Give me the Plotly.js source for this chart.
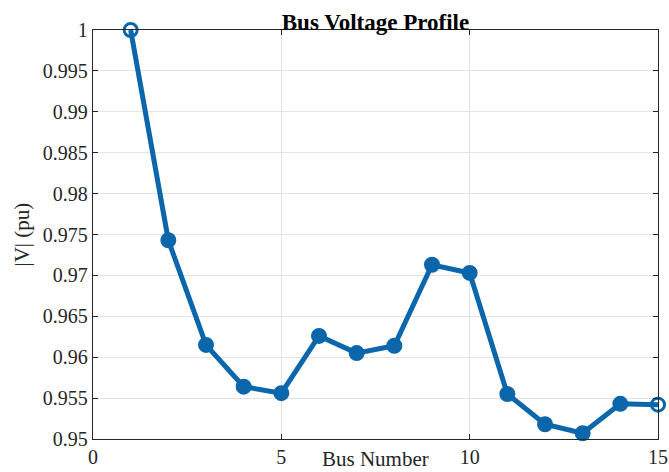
<!DOCTYPE html>
<html>
<head>
<meta charset="utf-8">
<script src="https://cdn.plot.ly/plotly-3.0.1.min.js"></script>
<style>
  html, body { margin: 0; padding: 0; background: #ffffff; }
  #chart { width: 669px; height: 472px; }
</style>
</head>
<body>
<div id="chart"></div>
<script>
// Voltage magnitude at each bus of the 15-bus feeder
const busNumbers = [1, 2, 3, 4, 5, 6, 7, 8, 9, 10, 11, 12, 13, 14, 15];
const voltagePu = [1.0000, 0.9743, 0.9615, 0.9564, 0.9556, 0.9626, 0.9605, 0.9614,
                   0.9713, 0.9703, 0.9555, 0.9518, 0.9507, 0.9543, 0.9542];
const xTickValues = [0, 5, 10, 15];
const yTickValues = [0.95, 0.955, 0.96, 0.965, 0.97, 0.975, 0.98, 0.985, 0.99, 0.995, 1];
const yTickLabels = ['0.95', '0.955', '0.96', '0.965', '0.97', '0.975', '0.98', '0.985', '0.99', '0.995', '1'];

const lineBlue = '#0b66ab';
const serif = '"Liberation Serif", "Times New Roman", serif';

// end buses drawn as open rings, interior buses as solid dots
const symbols = busNumbers.map((b, i) => (i === 0 || i === busNumbers.length - 1) ? 'circle-open' : 'circle');

const trace = {
  x: busNumbers,
  y: voltagePu,
  type: 'scatter',
  mode: 'lines+markers',
  line: { color: lineBlue, width: 5 },
  marker: { symbol: symbols, size: 13, color: lineBlue, line: { color: lineBlue, width: 3 } },
  cliponaxis: false,
  hoverinfo: 'x+y'
};

const axisCommon = {
  showline: true,
  linecolor: '#262626',
  linewidth: 1.2,
  mirror: 'ticks',
  ticks: 'inside',
  ticklen: 5,
  tickcolor: '#262626',
  showgrid: true,
  gridcolor: '#e3e3e3',
  gridwidth: 1,
  zeroline: false,
  tickfont: { family: serif, size: 20, color: '#262626' }
};

const layout = {
  width: 669,
  height: 472,
  margin: { l: 93, r: 11, t: 30, b: 33 },
  paper_bgcolor: '#ffffff',
  plot_bgcolor: '#ffffff',
  showlegend: false,
  title: {
    text: '<b>Bus Voltage Profile</b>',
    font: { family: serif, size: 23, color: '#000000' },
    x: 0.5, xref: 'paper', xanchor: 'center',
    y: 1, yref: 'paper', yanchor: 'bottom',
    pad: { b: 0 }
  },
  xaxis: Object.assign({}, axisCommon, {
    range: [0, 15],
    tickvals: xTickValues,
    ticktext: xTickValues.map(String),
    ticklabelstandoff: 0
  }),
  yaxis: Object.assign({}, axisCommon, {
    range: [0.95, 1],
    tickvals: yTickValues,
    ticktext: yTickLabels
  }),
  annotations: [
    {
      text: 'Bus Number',
      xref: 'paper', yref: 'paper',
      x: 0.5, y: 0, yshift: -20,
      xanchor: 'center', yanchor: 'middle',
      showarrow: false,
      font: { family: serif, size: 21, color: '#262626' }
    },
    {
      text: '|V| (pu)',
      xref: 'paper', yref: 'paper',
      x: 0, xshift: -72, y: 0.5,
      xanchor: 'center', yanchor: 'middle',
      textangle: -90,
      showarrow: false,
      font: { family: serif, size: 21, color: '#262626' }
    }
  ]
};

Plotly.newPlot('chart', [trace], layout, { displayModeBar: false, staticPlot: true });
</script>
</body>
</html>
